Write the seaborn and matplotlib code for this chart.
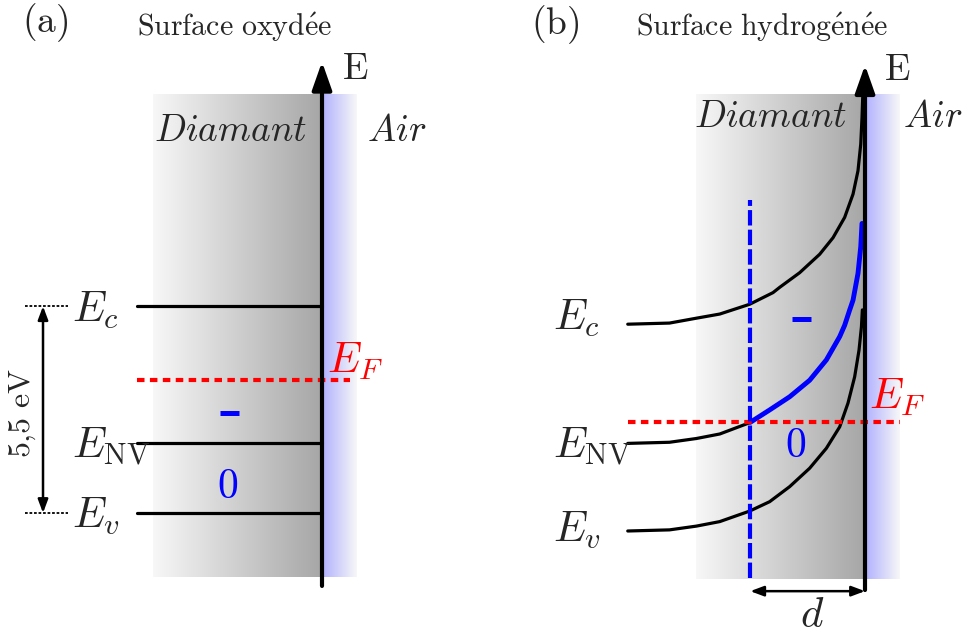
import numpy as np
import matplotlib
matplotlib.use("Agg")
import matplotlib.pyplot as plt
from matplotlib.patches import FancyArrowPatch
import seaborn as sns

sns.set_theme(style="white")
plt.rcParams["mathtext.fontset"] = "cm"
plt.rcParams["font.family"] = ["DejaVu Serif"]

# ---------------- data ----------------
# energy levels in eV (valence band edge at 0)
E_c = 5.5
E_v = 0.0
E_NV_ox = 1.85      # NV level, oxidised surface
E_F_ox = 3.54       # Fermi level, oxidised surface
E_NV_h = 2.33       # NV level, hydrogenated surface (bulk)
E_F_h = 2.89        # Fermi level, hydrogenated surface
gap_text = r"$5{,}5\ \mathrm{eV}$"

# upward band bending below the hydrogenated surface: depth (nm) -> shift (eV)
depth_c = [20.63, 17.0, 14.66, 12.63, 10.03, 8.0, 7.42, 5.68, 3.94, 2.78, 1.77, 1.04, 0.61, 0.37, 0.26, 0.20]
bend_c = [0.0, 0.03, 0.16, 0.27, 0.53, 0.84, 0.98, 1.37, 1.86, 2.30, 2.84, 3.46, 4.08, 4.79, 5.49, 6.03]
depth_nv = [20.63, 17.0, 14.66, 12.63, 10.03, 8.29, 6.55, 4.81, 3.36, 2.20, 1.77, 1.33, 1.04, 0.61, 0.37, 0.26]
bend_nv = [0.0, 0.03, 0.13, 0.25, 0.55, 0.89, 1.24, 1.68, 2.22, 2.84, 3.14, 3.55, 3.81, 4.52, 5.23, 5.85]
depth_v = [20.63, 17.0, 14.66, 12.63, 10.03, 8.29, 6.55, 4.81, 3.36, 2.20, 1.48, 0.90, 0.52, 0.31, 0.23]
bend_v = [0.0, 0.03, 0.13, 0.25, 0.53, 0.78, 1.18, 1.67, 2.20, 2.77, 3.40, 4.10, 4.81, 5.43, 5.88]

titles = [r"$\mathrm{Surface\ oxyd\acute{e}e}$", r"$\mathrm{Surface\ hydrog\acute{e}n\acute{e}e}$"]
panel_tags = [r"$\mathrm{(a)}$", r"$\mathrm{(b)}$"]
level_labels = [r"$E_c$", r"$E_{\mathrm{NV}}$", r"$E_v$"]

# ---------------- layout ----------------
W, H = 963, 637
SX, SY = 11.5, 37.6          # pixels per nm, pixels per eV
BAND_LW = 2.3
fig = plt.figure(figsize=(W / 100, H / 100), dpi=100, facecolor="white")


def make_axes(left_px, right_px, surf_px, ev_px):
    ax = fig.add_axes([left_px / W, 0, (right_px - left_px) / W, 1])
    ax.set_axis_off()
    return ax, ((left_px - surf_px) / SX, (right_px - surf_px) / SX), ((ev_px - H) / SY, ev_px / SY)


def hgrad(c0, c1, n=256):
    t = np.linspace(0, 1, n)[:, None]
    row = np.asarray(c0)[None, :] * (1 - t) + np.asarray(c1)[None, :] * t
    return np.repeat(row[None, :, :], 2, axis=0)


def gradients(ax, e_lo, e_hi):
    ax.imshow(hgrad((0.97, 0.97, 0.97), (0.65, 0.65, 0.65)), extent=(-14.7, 0, e_lo, e_hi),
              aspect="auto", interpolation="bilinear", zorder=0)
    ax.imshow(hgrad((0.69, 0.69, 1.0), (0.97, 0.97, 0.97)), extent=(0, 3.04, e_lo, e_hi),
              aspect="auto", interpolation="bilinear", zorder=0)


def energy_axis(ax, e_lo, e_hi):
    arr = FancyArrowPatch((0, e_lo), (0, e_hi), arrowstyle="-|>,head_length=17,head_width=6",
                          mutation_scale=1, lw=3.0, color="black", shrinkA=0, shrinkB=0, zorder=6)
    ax.add_patch(arr)


def double_arrow(ax, p0, p1):
    arr = FancyArrowPatch(p0, p1, arrowstyle="<|-|>,head_length=8,head_width=3",
                          mutation_scale=1, lw=1.8, color="black", shrinkA=0, shrinkB=0, zorder=6)
    ax.add_patch(arr)


def fermi_line(ax, x0, x1, e):
    ax.plot([x0, x1], [e, e], color="red", linewidth=3.0, dashes=(1.8, 1.3), zorder=5)


# ================= (a) oxidised surface =================
axa, xl, yl = make_axes(0, 481.5, 322, 513)
gradients(axa, -1.70, 11.14)
x_start_a = -16.1
for lev in (E_c, E_NV_ox, E_v):
    sns.lineplot(x=[x_start_a, 0], y=[lev, lev], ax=axa, color="black", linewidth=BAND_LW, zorder=3)
fermi_line(axa, x_start_a, 2.43, E_F_ox)
energy_axis(axa, -1.94, 12.0)

axa.text(2.87, 11.80, r"$\mathrm{E}$", fontsize=27, ha="center", va="center")
axa.text(-7.91, 10.16, r"$Diamant$", fontsize=27, ha="center", va="center")
axa.text(6.52, 10.16, r"$Air$", fontsize=27, ha="center", va="center")
axa.text(-7.65, 12.93, titles[0], fontsize=21.5, ha="center", va="center")
axa.text(-24.09, 13.03, panel_tags[0], fontsize=27, ha="center", va="center")
for lab, lev in zip(level_labels, (E_c, E_NV_ox, E_v)):
    axa.text(-21.75, lev - 0.40, lab, fontsize=31, ha="left", va="baseline")
axa.text(0.45, E_F_ox + 0.18, r"$E_F$", fontsize=31, color="red", ha="left", va="baseline")

for lev in (E_c, E_v):
    axa.plot([-25.8, -22.1], [lev, lev], color="black", linewidth=1.3, dashes=(1.5, 1.0))
double_arrow(axa, (-24.26, E_v), (-24.26, E_c))
axa.text(-26.1, (E_c + E_v) / 2 - 0.09, gap_text, fontsize=23, rotation=90, ha="center", va="center")

axa.plot([-8.87, -7.22], [2.66, 2.66], color="blue", linewidth=3.6, solid_capstyle="butt")
axa.text(-8.17, 0.73, r"$0$", fontsize=30, color="blue", ha="center", va="center")
axa.set_xlim(*xl)
axa.set_ylim(*yl)

# ================= (b) hydrogenated surface =================
axb, xl, yl = make_axes(481.5, 963, 865, 531)
gradients(axb, -1.28, 11.60)
for lev, dep, bnd in ((E_c, depth_c, bend_c), (E_NV_h, depth_nv, bend_nv), (E_v, depth_v, bend_v)):
    sns.lineplot(x=-np.asarray(dep), y=lev + np.asarray(bnd), ax=axb, color="black",
                 linewidth=BAND_LW, zorder=3)

# depth d at which the NV level crosses the Fermi level; beyond it (towards the
# surface) the NV centre is in the negative charge state
dep_nv = np.asarray(depth_nv)
bnd_nv = np.asarray(bend_nv)
d = float(np.interp(E_F_h - E_NV_h, bnd_nv, dep_nv))
sel = dep_nv < d
x_neg = np.concatenate([[-d], -dep_nv[sel]])
y_neg = np.concatenate([[E_F_h], E_NV_h + bnd_nv[sel]])
sns.lineplot(x=x_neg, y=y_neg, ax=axb, color="blue", linewidth=3.5, zorder=4)

fermi_line(axb, -depth_nv[0], 3.04, E_F_h)
axb.plot([-d, -d], [-1.25, 8.80], color="blue", linewidth=3.0, dashes=(3.7, 1.0), zorder=5)
energy_axis(axb, -1.57, 12.39)

axb.text(2.78, 12.26, r"$\mathrm{E}$", fontsize=27, ha="center", va="center")
axb.text(-8.17, 11.01, r"$Diamant$", fontsize=27, ha="center", va="center")
axb.text(5.91, 11.01, r"$Air$", fontsize=27, ha="center", va="center")
axb.text(-8.96, 13.40, titles[1], fontsize=21.5, ha="center", va="center")
axb.text(-26.96, 13.48, panel_tags[1], fontsize=27, ha="center", va="center")
for lab, lev, off in zip(level_labels, (E_c, E_NV_h, E_v), (-0.15, -0.39, -0.29)):
    axb.text(-27.1, lev + off, lab, fontsize=31, ha="left", va="baseline")
axb.text(0.35, E_F_h + 0.37, r"$E_F$", fontsize=31, color="red", ha="left", va="baseline")

axb.plot([-6.35, -4.70], [5.63, 5.63], color="blue", linewidth=3.6, solid_capstyle="butt")
axb.text(-6.0, 2.30, r"$0$", fontsize=30, color="blue", ha="center", va="center")
double_arrow(axb, (-d, -1.60), (0, -1.60))
axb.text(-4.6, -2.23, r"$d$", fontsize=31, ha="center", va="center")
axb.set_xlim(*xl)
axb.set_ylim(*yl)

fig.savefig("out.png", dpi=100, facecolor="white")
